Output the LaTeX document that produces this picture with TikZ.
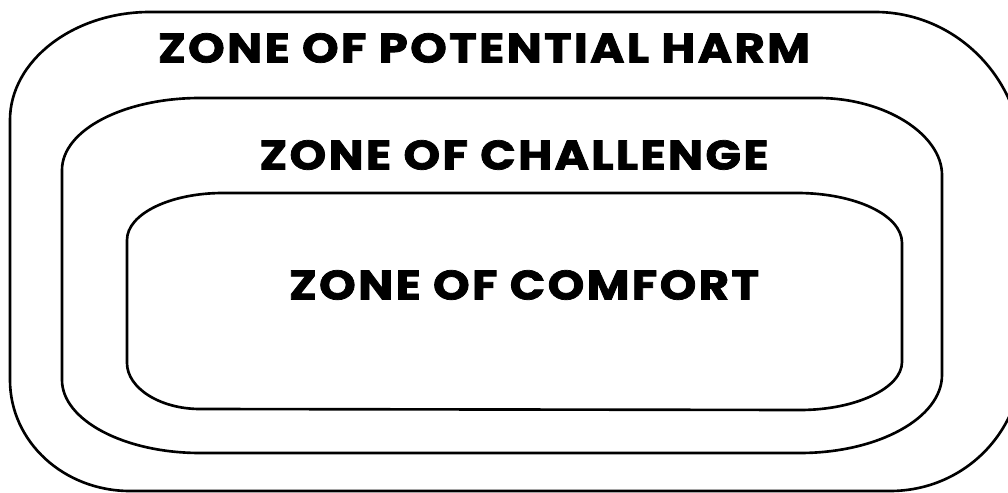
\documentclass[tikz,border=0pt]{standalone}
\usepackage{fontspec}
\setmainfont{Poppins}
\newfontfamily\zonefont[FakeBold=1.8, LetterSpace=5]{Poppins Bold}
\newcommand{\zonetext}[1]{\scalebox{1.13}[1]{\zonefont #1}}

\tikzset{
  zone/.style={line width=1.5pt, line join=round},
  zonelabel/.style={font=\fontsize{23.5}{27}\selectfont, inner sep=0pt}
}

\begin{document}
\begin{tikzpicture}[x=0.02cm, y=-0.02cm]
    \useasboundingbox (0,0) rectangle (1008,493);

    % Outer zone
    \draw[zone] (150,12) -- (875,12)
      .. controls (956,12) and (1022,79) .. (1022,160)
      -- (1022,360)
      .. controls (1022,432) and (964,491) .. (890,491)
      -- (130,491)
      .. controls (64,491) and (10,442) .. (10,380)
      -- (10,120)
      .. controls (10,61) and (73,12) .. (150,12) -- cycle;

    % Middle zone
    \draw[zone] (200,98) -- (818,98)
      .. controls (886,98) and (942,135) .. (942,175)
      -- (942,375)
      .. controls (942,418) and (878,453) .. (800,453)
      -- (200,453)
      .. controls (124,453) and (62,420) .. (62,380)
      -- (62,170)
      .. controls (62,130) and (124,98) .. (200,98) -- cycle;

    % Inner zone
    \draw[zone] (223,193) -- (797,193)
      .. controls (855,193) and (902,215) .. (902,243)
      -- (902,362)
      .. controls (902,388) and (856,410) .. (800,410)
      -- (200,409)
      .. controls (160,409) and (127,388) .. (127,363)
      -- (127,240)
      .. controls (127,214) and (170,193) .. (223,193) -- cycle;

    % Labels
    \node[zonelabel] (harm) at (484,48) {\zonetext{ZONE OF POTENTIAL HARM}};
    \node[zonelabel] (challenge) at (514,155) {\zonetext{ZONE OF CHALLENGE}};
    \node[zonelabel] (comfort) at (524,285) {\zonetext{ZONE OF COMFORT}};
\end{tikzpicture}
\end{document}
